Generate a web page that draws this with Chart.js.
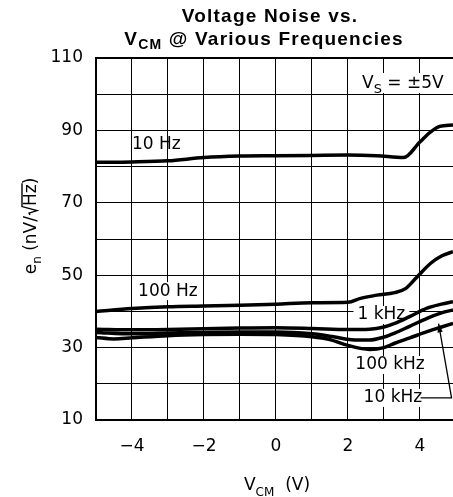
<!DOCTYPE html>
<html>
<head>
<meta charset="utf-8">
<script src="https://cdn.jsdelivr.net/npm/chart.js@4.4.1/dist/chart.umd.min.js"></script>
<style>
  html, body { margin: 0; padding: 0; background: #fff; overflow: hidden; }
</style>
</head>
<body>
<canvas id="chart" width="453" height="497"></canvas>
<script>
// V_CM sweep points (V) and voltage noise (nV/rtHz) per frequency
const vcm10Hz = [-5, -4, -3, -2, -1, 0, 1, 2, 2.8, 3.55, 4, 4.3, 4.55, 4.92];
const en10Hz = [81.2, 81.3, 81.6, 82.5, 82.9, 83.0, 83.1, 83.2, 83.0, 82.5, 86.8, 89.6, 91.1, 91.5];

const vcm100Hz = [-5, -4, -3, -2, -1, 0, 1, 2, 2.35, 2.8, 3.3, 3.6, 3.9, 4.3, 4.6, 4.92];
const en100Hz = [40.0, 40.8, 41.3, 41.5, 41.7, 42.0, 42.4, 42.5, 43.6, 44.5, 45.2, 46.3, 49.3, 53.3, 55.3, 56.5];

const vcm1kHz = [-5, -4, -3, -2, -1, 0, 1, 2, 2.6, 3, 3.3, 3.7, 4.2, 4.6, 4.92];
const en1kHz = [35.1, 34.9, 35.0, 35.2, 35.4, 35.5, 35.3, 35.0, 35.1, 35.7, 36.7, 38.5, 40.9, 42.0, 42.7];

const vcm100kHz = [-5, -4, -3, -2, -1, 0, 1, 1.6, 2.1, 2.6, 3, 3.3, 3.7, 4.2, 4.6, 4.92];
const en100kHz = [34.2, 33.8, 34.0, 34.2, 34.3, 34.3, 33.8, 33.0, 32.2, 32.1, 32.9, 34.0, 35.8, 38.1, 39.6, 40.4];

const vcm10kHz = [-5, -4.5, -4, -3, -2, -1, 0, 1, 1.5, 2, 2.6, 3, 3.3, 3.7, 4.2, 4.6, 4.92];
const en10kHz = [32.8, 32.4, 32.7, 33.3, 33.6, 33.7, 33.6, 33.0, 32.2, 30.6, 29.5, 30.0, 31.2, 32.6, 34.4, 35.7, 36.7];

// axes
const xGridValues = [-5, -4, -3, -2, -1, 0, 1, 2, 3, 4];
const xLabelValues = [-4, -2, 0, 2, 4];
const yLabelValues = [10, 30, 50, 70, 90, 110];

const FONT = '"DejaVu Sans", sans-serif';
const BOLD = 'bold 19px "Liberation Sans", Arial, sans-serif';

function toPoints(xs, ys) {
    return xs.map((x, i) => ({ x: x, y: ys[i] }));
}

function curve(label, xs, ys) {
    return {
        label: label,
        data: toPoints(xs, ys),
        borderColor: '#000',
        borderWidth: 3.5,
        pointRadius: 0,
        fill: false,
        cubicInterpolationMode: 'monotone'
    };
}

// draws a run of text pieces (for subscripts), returns each piece's span
function drawRuns(ctx, runs, x, y, align) {
    let total = 0;
    runs.forEach(r => {
        ctx.font = r.font;
        r.w = r.gap || ctx.measureText(r.text).width;
        total += r.w;
    });
    let cx = align === 'center' ? x - total / 2 : (align === 'right' ? x - total : x);
    const spans = [];
    ctx.textAlign = 'left';
    runs.forEach(r => {
        ctx.font = r.font;
        if (!r.gap) ctx.fillText(r.text, cx, y + (r.dy || 0));
        spans.push({ x0: cx, x1: cx + r.w });
        cx += r.w;
    });
    return spans;
}

function boxLabel(ctx, text, cx, cy) {
    ctx.font = '17px ' + FONT;
    const w = ctx.measureText(text).width;
    ctx.fillStyle = '#fff';
    ctx.fillRect(cx - w / 2 - 4, cy - 9, w + 8, 18);
    ctx.fillStyle = '#000';
    ctx.textAlign = 'center';
    ctx.textBaseline = 'middle';
    ctx.fillText(text, cx, cy);
}

// label anchors in data units (V, nV/rtHz)
const boxedLabels = [
    { text: '1 kHz', at: [2.93, 39.0] },
    { text: '100 kHz', at: [3.17, 25.2] },
    { text: '10 kHz', at: [3.25, 16.1] }
];
const leader10kHz = [[4.02, 16.1], [4.88, 16.1], [4.52, 36.6]];

const labelsPlugin = {
    id: 'curveLabels',
    beforeDatasetsDraw(chart) {
        const ctx = chart.ctx;
        const xs = chart.scales.x, ys = chart.scales.y;
        ctx.save();

        // 100 Hz label, white backed
        ctx.font = '17px ' + FONT;
        const t100 = '100 Hz';
        const w100 = ctx.measureText(t100).width;
        const lx = xs.getPixelForValue(-3.83), ly = ys.getPixelForValue(45.6);
        ctx.fillStyle = '#fff';
        ctx.fillRect(lx - 3, ly - 9, w100 + 6, 18);
        ctx.fillStyle = '#000';
        ctx.textAlign = 'left';
        ctx.textBaseline = 'middle';
        ctx.fillText(t100, lx, ly);

        boxedLabels.forEach(l => {
            boxLabel(ctx, l.text, xs.getPixelForValue(l.at[0]), ys.getPixelForValue(l.at[1]));
        });

        // leader line with arrow for 10 kHz
        const p = leader10kHz.map(q => [xs.getPixelForValue(q[0]), ys.getPixelForValue(q[1])]);
        ctx.strokeStyle = '#000';
        ctx.lineWidth = 1.3;
        ctx.beginPath();
        ctx.moveTo(p[0][0], p[0][1]);
        ctx.lineTo(p[1][0], p[1][1]);
        ctx.lineTo(p[2][0], p[2][1]);
        ctx.stroke();
        const ang = Math.atan2(p[2][1] - p[1][1], p[2][0] - p[1][0]);
        ctx.beginPath();
        ctx.moveTo(p[2][0], p[2][1]);
        ctx.lineTo(p[2][0] - 9 * Math.cos(ang - 0.3), p[2][1] - 9 * Math.sin(ang - 0.3));
        ctx.lineTo(p[2][0] - 9 * Math.cos(ang + 0.3), p[2][1] - 9 * Math.sin(ang + 0.3));
        ctx.closePath();
        ctx.fillStyle = '#000';
        ctx.fill();

        // supply voltage note, top right
        ctx.fillStyle = '#fff';
        ctx.fillRect(357, 73, 96, 20);
        ctx.fillStyle = '#000';
        ctx.textBaseline = 'alphabetic';
        drawRuns(ctx, [
            { text: 'V', font: '17px ' + FONT },
            { text: 'S', font: '13px ' + FONT, dy: 5 },
            { text: ' = \u00b15V', font: '17px ' + FONT }
        ], 362, 88, 'left');

        ctx.restore();
    },
    afterDraw(chart) {
        const ctx = chart.ctx;
        const xs = chart.scales.x, ys = chart.scales.y;
        ctx.save();
        ctx.fillStyle = '#000';

        // 10 Hz label (no background)
        ctx.font = '17px ' + FONT;
        ctx.textAlign = 'left';
        ctx.textBaseline = 'middle';
        ctx.fillText('10 Hz', xs.getPixelForValue(-4.0), ys.getPixelForValue(86.2));

        // title
        ctx.textBaseline = 'alphabetic';
        ctx.letterSpacing = '1.2px';
        ctx.font = BOLD;
        ctx.textAlign = 'center';
        ctx.fillText('Voltage Noise vs.', 270, 22);
        drawRuns(ctx, [
            { text: 'V', font: BOLD },
            { text: 'CM', font: 'bold 14px "Liberation Sans", Arial, sans-serif', dy: 4 },
            { text: ' @ Various Frequencies', font: BOLD }
        ], 264, 45, 'center');
        ctx.letterSpacing = '0px';

        // x axis title
        drawRuns(ctx, [
            { text: 'V', font: '17px ' + FONT },
            { text: 'CM', font: '12px ' + FONT, dy: 6 },
            { text: '  (V)', font: '17px ' + FONT }
        ], 277, 490, 'center');

        // y axis title, rotated, with a hand drawn radical over Hz
        ctx.translate(36, 226);
        ctx.rotate(-Math.PI / 2);
        const spans = drawRuns(ctx, [
            { text: 'e', font: '17px ' + FONT },
            { text: 'n', font: '12px ' + FONT, dy: 5 },
            { text: ' (nV/', font: '17px ' + FONT },
            { text: '', gap: 10, font: '17px ' + FONT },
            { text: 'Hz', font: '17px ' + FONT },
            { text: ')', font: '17px ' + FONT }
        ], 0, 0, 'center');
        const r0 = spans[3].x0 + 1;
        ctx.strokeStyle = '#000';
        ctx.lineWidth = 1.4;
        ctx.beginPath();
        ctx.moveTo(r0, -6);
        ctx.lineTo(r0 + 2, -7);
        ctx.lineTo(r0 + 4.5, 1);
        ctx.lineTo(r0 + 8.5, -14);
        ctx.lineTo(spans[4].x1 + 1, -14);
        ctx.stroke();

        ctx.restore();
    }
};

new Chart(document.getElementById('chart'), {
    type: 'line',
    data: {
        datasets: [
            curve('10 Hz', vcm10Hz, en10Hz),
            curve('100 Hz', vcm100Hz, en100Hz),
            curve('1 kHz', vcm1kHz, en1kHz),
            curve('100 kHz', vcm100kHz, en100kHz),
            curve('10 kHz', vcm10kHz, en10kHz)
        ]
    },
    options: {
        responsive: false,
        animation: false,
        devicePixelRatio: 1,
        layout: { padding: { top: 58, left: 0, right: 0, bottom: 37 } },
        plugins: {
            legend: { display: false },
            tooltip: { enabled: false },
            title: { display: false }
        },
        scales: {
            x: {
                type: 'linear',
                min: -5,
                max: 4.92,
                afterBuildTicks: axis => { axis.ticks = xGridValues.map(v => ({ value: v })); },
                afterFit: axis => { axis.height = 40; },
                ticks: {
                    autoSkip: false,
                    maxRotation: 0,
                    padding: 16,
                    color: '#000',
                    font: { family: FONT, size: 17 },
                    callback: v => xLabelValues.includes(v) ? (v < 0 ? '\u2212' + Math.abs(v) : String(v)) : ''
                },
                grid: { color: '#000', lineWidth: 1, drawTicks: false },
                border: { color: '#000', width: 2 }
            },
            y: {
                min: 10,
                max: 110,
                afterFit: axis => { axis.width = 96; },
                ticks: {
                    stepSize: 10,
                    padding: 13,
                    color: '#000',
                    font: { family: FONT, size: 17 },
                    callback: v => yLabelValues.includes(v) ? String(v) : ''
                },
                grid: {
                    color: '#000',
                    lineWidth: c => (c.tick && c.tick.value === 110) ? 2 : 1,
                    drawTicks: false
                },
                border: { color: '#000', width: 2 }
            }
        }
    },
    plugins: [labelsPlugin]
});
</script>
</body>
</html>
